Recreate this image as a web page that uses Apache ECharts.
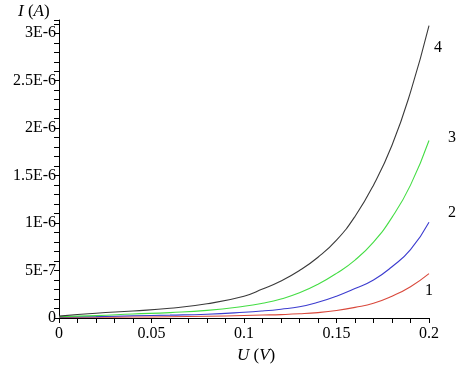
<!DOCTYPE html>
<html>
<head>
<meta charset="utf-8">
<script src="https://cdn.jsdelivr.net/npm/echarts@6/dist/echarts.min.js"></script>
<style>
  html, body { margin: 0; padding: 0; background: #fff; }
  #chart { width: 467px; height: 370px; }
</style>
</head>
<body>
<div id="chart"></div>
<script>
// --- data ---
const uValues = [0, 0.02, 0.04, 0.06, 0.08, 0.1, 0.11, 0.12, 0.13, 0.14, 0.15, 0.16, 0.17, 0.18, 0.19, 0.2];
const current1 = [5e-9, 8e-9, 1e-8, 1.3e-8, 1.8e-8, 2.6e-8, 3.1e-8, 3.6e-8, 4.4e-8, 5.7e-8, 7.9e-8, 1.12e-7, 1.55e-7, 2.3e-7, 3.3e-7, 4.68e-7];
const current2 = [1e-8, 1.5e-8, 2.3e-8, 3.0e-8, 4.0e-8, 6.0e-8, 7.4e-8, 9.3e-8, 1.18e-7, 1.65e-7, 2.3e-7, 3.1e-7, 4.0e-7, 5.4e-7, 7.2e-7, 1.01e-6];
const current3 = [1.5e-8, 2.5e-8, 4.2e-8, 5.7e-8, 8e-8, 1.23e-7, 1.55e-7, 2.0e-7, 2.65e-7, 3.55e-7, 4.7e-7, 6.1e-7, 8.0e-7, 1.06e-6, 1.4e-6, 1.87e-6];
const current4 = [2e-8, 5e-8, 7.4e-8, 1.02e-7, 1.5e-7, 2.3e-7, 3.05e-7, 3.9e-7, 5.0e-7, 6.4e-7, 8.2e-7, 1.07e-6, 1.40e-6, 1.82e-6, 2.38e-6, 3.08e-6];
const curveNames = ['1', '2', '3', '4'];
const xTickLabels = ['0', '0.05', '0.1', '0.15', '0.2'];
const yTickLabels = ['0', '5E-7', '1E-6', '1.5E-6', '2E-6', '2.5E-6', '3E-6'];

const chart = echarts.init(document.getElementById('chart'));
const serif = '"Liberation Serif", "DejaVu Serif", serif';
const fs = 16;

function pairs(ys) {
    return uValues.map((u, i) => [u, ys[i]]);
}

// curve colour + where its number sits relative to the line end
const curveStyles = [
    { color: '#d9493c', offset: [-12, 17] },
    { color: '#3c3ccf', offset: [11, -9] },
    { color: '#44dd44', offset: [11, -3] },
    { color: '#3a3a3a', offset: [-3, 22] }
];
const curveData = [current1, current2, current3, current4];

const series = curveData.map((ys, i) => ({
    name: curveNames[i],
    type: 'line',
    data: pairs(ys),
    smooth: 0.5,
    showSymbol: false,
    lineStyle: { width: 1.1, color: curveStyles[i].color },
    itemStyle: { color: curveStyles[i].color },
    endLabel: {
        show: true,
        formatter: (p) => p.seriesName,
        offset: curveStyles[i].offset,
        color: '#000',
        fontFamily: serif,
        fontSize: fs
    },
    z: 2 + i
}));

const axisLineStyle = { color: '#000', width: 1 };

chart.setOption({
    animation: false,
    grid: { left: 59, top: 20, width: 370, height: 298 },
    xAxis: {
        type: 'value',
        min: 0,
        max: 0.2,
        interval: 0.05,
        axisLine: { show: true, onZero: false, lineStyle: axisLineStyle },
        axisTick: { show: true, length: 5, lineStyle: axisLineStyle },
        minorTick: { show: true, splitNumber: 5, length: 5, lineStyle: axisLineStyle },
        splitLine: { show: false },
        axisLabel: {
            color: '#000',
            fontFamily: serif,
            fontSize: fs,
            margin: 8,
            formatter: (v) => xTickLabels[Math.round(v / 0.05)] ?? ''
        }
    },
    yAxis: {
        type: 'value',
        min: 0,
        max: 3.14e-6,
        interval: 5e-7,
        axisLine: { show: true, lineStyle: axisLineStyle },
        axisTick: { show: true, length: 5, lineStyle: axisLineStyle },
        minorTick: { show: true, splitNumber: 5, length: 5, lineStyle: axisLineStyle },
        splitLine: { show: false },
        axisLabel: {
            color: '#000',
            fontFamily: serif,
            fontSize: fs,
            margin: 3,
            formatter: (v) => {
                const k = v / 5e-7;
                return Math.abs(k - Math.round(k)) < 1e-6 ? (yTickLabels[Math.round(k)] ?? '') : '';
            }
        }
    },
    graphic: [
        {
            type: 'text',
            left: 18,
            top: 3,
            style: {
                text: '{i|I} ({i|A})',
                fontFamily: serif,
                fontSize: 17,
                fill: '#000',
                rich: { i: { fontStyle: 'italic', fontFamily: serif, fontSize: 17 } }
            }
        },
        {
            type: 'text',
            left: 237,
            top: 347,
            style: {
                text: '{i|U} ({i|V})',
                fontFamily: serif,
                fontSize: 17,
                fill: '#000',
                rich: { i: { fontStyle: 'italic', fontFamily: serif, fontSize: 17 } }
            }
        }
    ],
    series: series
});
</script>
</body>
</html>
